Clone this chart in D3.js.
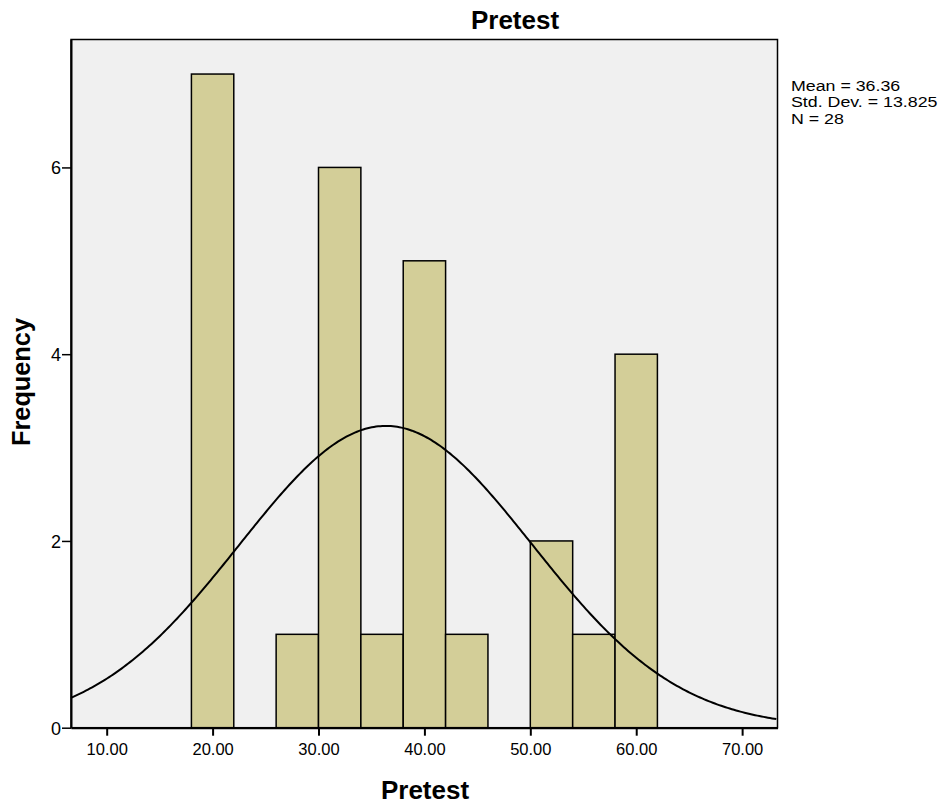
<!DOCTYPE html>
<html>
<head>
<meta charset="utf-8">
<script src="https://cdn.jsdelivr.net/npm/d3@7"></script>
<style>
  html, body { margin: 0; padding: 0; background: #fff; }
  svg { display: block; font-family: Arial, "Liberation Sans", Helvetica, sans-serif; }
</style>
</head>
<body>
<svg id="chart" width="947" height="808"></svg>
<script>
// ---- data ----
const binStarts = [18, 26, 30, 34, 38, 42, 50, 54, 58];
const binWidth = 4;
const counts = [7, 1, 6, 1, 5, 1, 2, 1, 4];
const xTicks = [10, 20, 30, 40, 50, 60, 70];
const yTicks = [0, 2, 4, 6];
const statLabels = ["Mean = 36.36", "Std. Dev. = 13.825", "N = 28"];
const mean = 36.36, sd = 13.825, n = 28;

// ---- layout ----
const svg = d3.select("#chart");
const FONT = 'Arial, "Liberation Sans", Helvetica, sans-serif';
const L = 71, R = 777.5, T = 39.5, B = 727.7;

const x = d3.scaleLinear().domain([6.63, 73.34]).range([L, R]);
const y = d3.scaleLinear().domain([0, 7.37]).range([B, T]);

// plot background
svg.append("rect").attr("x", L).attr("y", T).attr("width", R - L).attr("height", B - T)
  .attr("fill", "#f0f0f0").attr("stroke", "none");

// bars
svg.append("g").selectAll("rect").data(binStarts).join("rect")
  .attr("x", (d) => x(d))
  .attr("y", (d, i) => y(counts[i]))
  .attr("width", (d) => x(d + binWidth) - x(d))
  .attr("height", (d, i) => y(0) - y(counts[i]))
  .attr("fill", "#d3ce98")
  .attr("stroke", "#000")
  .attr("stroke-width", 1.5);

// normal curve
const pts = d3.range(x.domain()[0], x.domain()[1] + 0.001, 0.2).map(v => [v,
  n * binWidth * Math.exp(-0.5 * Math.pow((v - mean) / sd, 2)) / (sd * Math.sqrt(2 * Math.PI))]);
svg.append("path")
  .datum(pts)
  .attr("fill", "none").attr("stroke", "#000").attr("stroke-width", 2)
  .attr("d", d3.line().x(d => x(d[0])).y(d => y(d[1])));

// frame
svg.append("rect").attr("x", L).attr("y", T).attr("width", R - L).attr("height", B - T)
  .attr("fill", "none").attr("stroke", "#000").attr("stroke-width", 1.5);

// x axis
const xAxis = svg.append("g").attr("transform", `translate(0,${B})`)
  .call(d3.axisBottom(x).tickValues(xTicks).tickFormat(d3.format(".2f")).tickSize(8).tickSizeOuter(0));
xAxis.attr("font-family", FONT).attr("font-size", 16.5);
xAxis.select(".domain").attr("stroke-width", 2);
xAxis.selectAll(".tick line").attr("stroke-width", 2);
xAxis.selectAll(".tick text").attr("fill", "#000").attr("y", 12).attr("dy", "0.95em");

// y axis
const yAxis = svg.append("g").attr("transform", `translate(${L},0)`)
  .call(d3.axisLeft(y).tickValues(yTicks).tickFormat(d3.format("d")).tickSize(9).tickSizeOuter(0));
yAxis.attr("font-family", FONT).attr("font-size", 18);
yAxis.select(".domain").attr("stroke-width", 2);
yAxis.selectAll(".tick line").attr("stroke-width", 1.5);
yAxis.selectAll(".tick text").attr("fill", "#000").attr("x", -10).attr("dy", "0.36em");

// titles
svg.append("text").attr("x", 515).attr("y", 29).attr("text-anchor", "middle")
  .attr("font-size", 26).attr("font-weight", "bold").text("Pretest");
svg.append("text").attr("x", 425).attr("y", 799).attr("text-anchor", "middle")
  .attr("font-size", 26).attr("font-weight", "bold").text("Pretest");
svg.append("text").attr("transform", `translate(30,382) rotate(-90)`).attr("text-anchor", "middle")
  .attr("font-size", 25.3).attr("font-weight", "bold").text("Frequency");

// stats (horizontally widened, tightly stacked as in the reference)
svg.append("g").attr("transform", "translate(791,0) scale(1.27,1)")
  .selectAll("text").data(statLabels).join("text")
  .attr("x", 0).attr("y", (d, i) => 91 + i * 16.3)
  .attr("font-size", 14).attr("fill", "#000").text(d => d);
</script>
</body>
</html>
